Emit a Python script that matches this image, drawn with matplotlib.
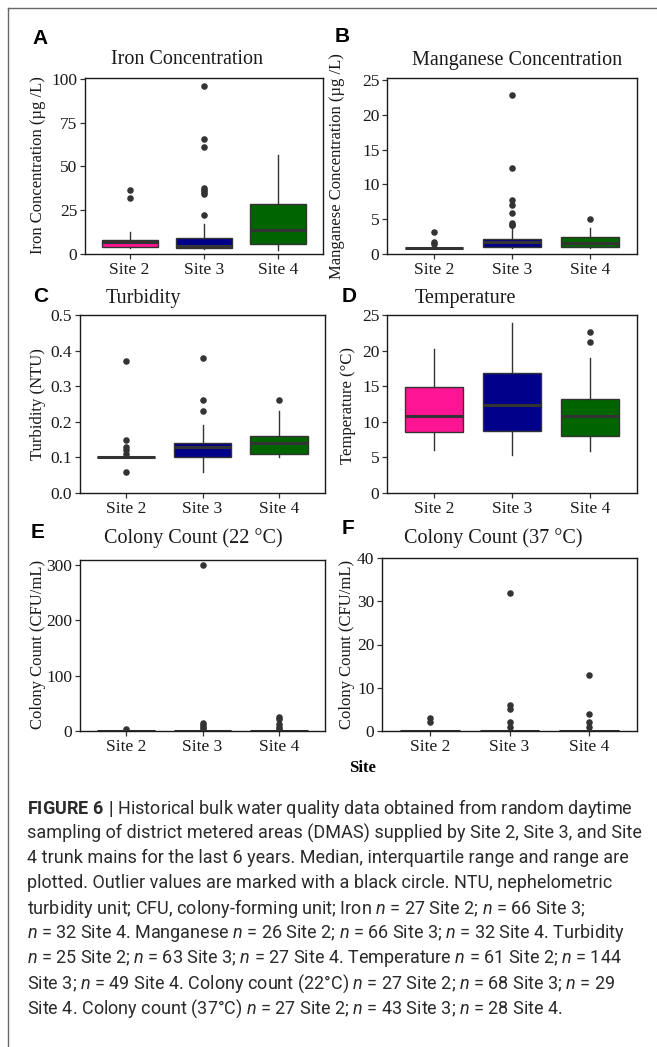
import matplotlib
matplotlib.use("Agg")
import matplotlib.pyplot as plt
from matplotlib.lines import Line2D

# ---------------- data ----------------
sites = ["Site 2", "Site 3", "Site 4"]
fill_colors = ["#FF1493", "#00008B", "#006400"]

iron_q1 = [4.0, 3.6, 5.7]
iron_med = [6.9, 4.5, 13.9]
iron_q3 = [8.0, 9.3, 28.4]
iron_lo = [3.4, 2.9, 2.5]
iron_hi = [12.4, 17.1, 56.4]
iron_out = [[32.0, 36.8], [22.1, 34.3, 35.2, 36.4, 37.7, 61.0, 65.7, 96.2], []]

mn_q1 = [0.85, 0.94, 0.94]
mn_med = [0.85, 1.75, 1.6]
mn_q3 = [0.85, 2.1, 2.5]
mn_lo = [0.85, 0.9, 0.9]
mn_hi = [0.85, 3.7, 3.8]
mn_out = [[1.45, 1.7, 3.1], [4.15, 4.2, 4.5, 5.9, 7.0, 7.8, 12.4, 22.9], [5.0]]

tb_q1 = [0.10, 0.10, 0.11]
tb_med = [0.10, 0.13, 0.14]
tb_q3 = [0.10, 0.14, 0.16]
tb_lo = [0.10, 0.06, 0.10]
tb_hi = [0.10, 0.19, 0.23]
tb_out = [[0.06, 0.11, 0.12, 0.13, 0.15, 0.37], [0.23, 0.26, 0.38], [0.26]]

tp_q1 = [8.6, 8.7, 8.0]
tp_med = [10.8, 12.4, 10.8]
tp_q3 = [14.9, 16.9, 13.2]
tp_lo = [6.1, 5.4, 5.9]
tp_hi = [20.2, 23.9, 18.9]
tp_out = [[], [], [21.2, 22.6]]

c22_q1 = [0, 0, 0]
c22_med = [0, 0, 0]
c22_q3 = [0, 0, 0]
c22_lo = [0, 0, 0]
c22_hi = [0, 0, 0]
c22_out = [[3], [3, 7, 10, 14, 300], [3, 7, 12, 22, 25]]

c37_q1 = [0, 0, 0]
c37_med = [0, 0, 0]
c37_q3 = [0, 0, 0]
c37_lo = [0, 0, 0]
c37_hi = [0, 0, 0]
c37_out = [[2, 3], [1, 2, 5, 6, 32], [1, 2, 4, 13]]

titles = ["Iron Concentration", "Manganese Concentration", "Turbidity",
          "Temperature", "Colony Count (22 °C)", "Colony Count (37 °C)"]
ylabels = ["Iron Concentration (µg /L)", "Manganese Concentration (µg /L)",
           "Turbidity (NTU)", "Temperature (°C)",
           "Colony Count (CFU/mL)", "Colony Count (CFU/mL)"]
letters = ["A", "B", "C", "D", "E", "F"]

iron_ticks = [0, 25, 50, 75, 100]
mn_ticks = [0, 5, 10, 15, 20, 25]
tb_ticks = [0.0, 0.1, 0.2, 0.3, 0.4, 0.5]
tp_ticks = [0, 5, 10, 15, 20, 25]
c22_ticks = [0, 100, 200, 300]
c37_ticks = [0, 10, 20, 30, 40]

caption_lines = [
    r"$\mathbf{FIGURE\ 6\ |}$ Historical bulk water quality data obtained from random daytime",
    "sampling of district metered areas (DMAS) supplied by Site 2, Site 3, and Site",
    "4 trunk mains for the last 6 years. Median, interquartile range and range are",
    "plotted. Outlier values are marked with a black circle. NTU, nephelometric",
    r"turbidity unit; CFU, colony-forming unit; Iron $\mathit{n}$ = 27 Site 2; $\mathit{n}$ = 66 Site 3;",
    r"$\mathit{n}$ = 32 Site 4. Manganese $\mathit{n}$ = 26 Site 2; $\mathit{n}$ = 66 Site 3; $\mathit{n}$ = 32 Site 4. Turbidity",
    r"$\mathit{n}$ = 25 Site 2; $\mathit{n}$ = 63 Site 3; $\mathit{n}$ = 27 Site 4. Temperature $\mathit{n}$ = 61 Site 2; $\mathit{n}$ = 144",
    r"Site 3; $\mathit{n}$ = 49 Site 4. Colony count (22°C) $\mathit{n}$ = 27 Site 2; $\mathit{n}$ = 68 Site 3; $\mathit{n}$ = 29",
    r"Site 4. Colony count (37°C) $\mathit{n}$ = 27 Site 2; $\mathit{n}$ = 43 Site 3; $\mathit{n}$ = 28 Site 4.",
]

# ---------------- style ----------------
plt.rcParams['mathtext.fontset'] = 'custom'
plt.rcParams['mathtext.rm'] = 'Roboto'
plt.rcParams['mathtext.it'] = 'Roboto:italic'
plt.rcParams['mathtext.bf'] = 'Roboto:bold'

SERIF = "Liberation Serif"
SANS = "Liberation Sans"
LC = "#333333"

W, H = 657, 1047
fig = plt.figure(figsize=(W / 100, H / 100), dpi=100)


def px_axes(x0, y0, x1, y1):
    return fig.add_axes([x0 / W, 1 - y1 / H, (x1 - x0) / W, (y1 - y0) / H])


panels = [
    dict(box=(85, 78, 323, 254), q1=iron_q1, med=iron_med, q3=iron_q3, lo=iron_lo, hi=iron_hi,
         out=iron_out, ticks=iron_ticks, ylim=(0, 100.5), fmt="{:g}",
         title_xy=(187, 60), letter_xy=(40, 38), ylab_xy=(38, 165)),
    dict(box=(387, 78, 637, 254), q1=mn_q1, med=mn_med, q3=mn_q3, lo=mn_lo, hi=mn_hi,
         out=mn_out, ticks=mn_ticks, ylim=(0, 25.3), fmt="{:g}",
         title_xy=(517, 60), letter_xy=(342, 36), ylab_xy=(337, 166)),
    dict(box=(80, 315, 325, 493), q1=tb_q1, med=tb_med, q3=tb_q3, lo=tb_lo, hi=tb_hi,
         out=tb_out, ticks=tb_ticks, ylim=(0, 0.5), fmt="{:.1f}",
         title_xy=(143, 298), letter_xy=(41, 297), ylab_xy=(38, 404)),
    dict(box=(387, 315, 637, 493), q1=tp_q1, med=tp_med, q3=tp_q3, lo=tp_lo, hi=tp_hi,
         out=tp_out, ticks=tp_ticks, ylim=(0, 25), fmt="{:g}",
         title_xy=(465, 298), letter_xy=(349, 297), ylab_xy=(348, 405)),
    dict(box=(80, 560, 325, 731), q1=c22_q1, med=c22_med, q3=c22_q3, lo=c22_lo, hi=c22_hi,
         out=c22_out, ticks=c22_ticks, ylim=(0, 309), fmt="{:g}",
         title_xy=(193, 538), letter_xy=(38, 532), ylab_xy=(38, 644)),
    dict(box=(382, 558, 637, 731), q1=c37_q1, med=c37_med, q3=c37_q3, lo=c37_lo, hi=c37_hi,
         out=c37_out, ticks=c37_ticks, ylim=(0, 40), fmt="{:g}",
         title_xy=(493, 538), letter_xy=(348, 528), ylab_xy=(347, 644)),
]

positions = [1, 2, 3]
for i, p in enumerate(panels):
    ax = px_axes(*p["box"])
    stats = []
    for k in range(3):
        stats.append(dict(q1=p["q1"][k], med=p["med"][k], q3=p["q3"][k],
                          whislo=p["lo"][k], whishi=p["hi"][k],
                          fliers=p["out"][k], label=sites[k]))
    bp = ax.bxp(stats, positions=positions, widths=0.75, patch_artist=True,
                showcaps=False, showfliers=True,
                boxprops=dict(edgecolor=LC, linewidth=1.0),
                whiskerprops=dict(color=LC, linewidth=1.0),
                medianprops=dict(color=LC, linewidth=2.2),
                flierprops=dict(marker='o', markerfacecolor=LC, markeredgecolor=LC,
                                markersize=3.7, linestyle='none'))
    for patch, c in zip(bp["boxes"], fill_colors):
        patch.set_facecolor(c)
    ax.set_xlim(0.4, 3.6)
    ax.set_ylim(*p["ylim"])
    ax.set_yticks(p["ticks"])
    ax.set_yticklabels([p["fmt"].format(t) for t in p["ticks"]])
    ax.set_xticks(positions)
    ax.set_xticklabels(sites)
    for lab in ax.get_xticklabels() + ax.get_yticklabels():
        lab.set_fontfamily(SERIF)
        lab.set_fontsize(12.5)
        lab.set_color("#1a1a1a")
    ax.tick_params(direction='out', length=3.5, width=0.9, color=LC, pad=2)
    for s in ax.spines.values():
        s.set_color("#1a1a1a")
        s.set_linewidth(1.0)
    ax.set_facecolor("white")

    tx, ty = p["title_xy"]
    fig.text(tx / W, 1 - ty / H, titles[i], family=SERIF, fontsize=14.5,
             ha='center', va='center', color="#1a1a1a")
    lx, ly = p["letter_xy"]
    fig.text(lx / W, 1 - ly / H, letters[i], family=SANS, fontsize=15,
             fontweight='bold', ha='center', va='center', color="black")
    yx, yy = p["ylab_xy"]
    fig.text(yx / W, 1 - yy / H, ylabels[i], family=SERIF, fontsize=12,
             rotation=90, ha='center', va='center', color="#1a1a1a")

fig.text(363 / W, 1 - 768 / H, "Site", family=SERIF, fontsize=12,
         fontweight='bold', ha='center', va='center')

# caption
y0 = 808
for j, line in enumerate(caption_lines):
    fig.text(27 / W, 1 - (y0 + 25.1 * j) / H, line, family="Roboto",
             fontsize=13.0, ha='left', va='center', color="#2b2b2b")

# frame lines (top and left)
fig.add_artist(Line2D([8 / W, 1], [1 - 8 / H, 1 - 8 / H], transform=fig.transFigure,
                      color="#666666", linewidth=1.0))
fig.add_artist(Line2D([8 / W, 8 / W], [0, 1 - 8 / H], transform=fig.transFigure,
                      color="#666666", linewidth=1.0))

fig.savefig("out.png", dpi=100, facecolor="white")
